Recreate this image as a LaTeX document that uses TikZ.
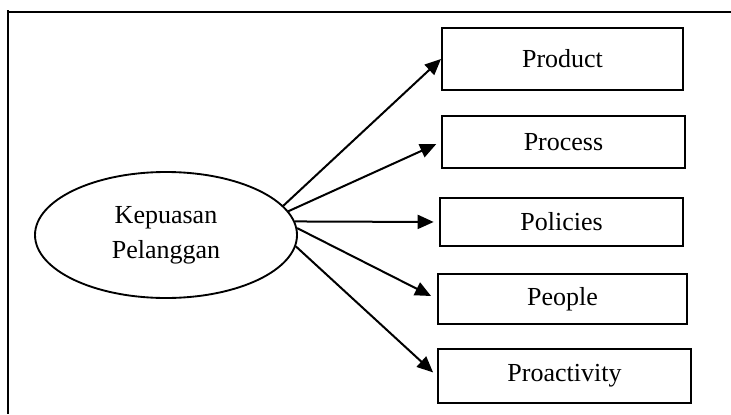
\documentclass[tikz,border=0pt]{standalone}
\usepackage{fontspec}
\setmainfont{Liberation Serif}
\usetikzlibrary{shapes.geometric,arrows.meta}
\tikzset{
  dimbox/.style={draw,line width=1.5pt,inner sep=0pt},
  dimarrow/.style={-{Triangle[length=12pt,width=10.5pt]},line width=1.5pt}
}
\begin{document}
\begin{tikzpicture}[x=0.75pt,y=-0.75pt,every node/.style={font=\fontsize{19.5}{26}\selectfont}]
  \useasboundingbox (0,0) rectangle (731,414);
  % frame
  \draw[line width=1.5pt] (8,10) -- (8,414);
  \draw[line width=1.5pt] (8,12) -- (731,12);
  \node[draw,ellipse,line width=1.4pt,inner sep=0pt,minimum width=196.5pt,minimum height=94.5pt,align=center] (kp) at (166,235) {Kepuasan\\Pelanggan};
  \node[dimbox,minimum width=180.75pt,minimum height=46.5pt] (product) at (562.5,59) {Product};
  \node[dimbox,minimum width=182.25pt,minimum height=39pt] (process) at (563.5,142) {Process};
  \node[dimbox,minimum width=182.25pt,minimum height=36pt] (policies) at (561.5,222) {Policies};
  \node[dimbox,minimum width=186.75pt,minimum height=37.5pt] (people) at (562.5,299) {People};
  \node[dimbox,minimum width=189.75pt,minimum height=40.5pt] (proactivity) at (564.5,376) {Proactivity};
  \draw[dimarrow] (kp.14) -- (product.west);
  \draw[dimarrow,shorten >=4pt] (kp.11) -- (process.west);
  \draw[dimarrow,shorten >=4pt] (kp.6) -- (policies.west);
  \draw[dimarrow,shorten >=5pt] (kp.3) -- (people.west);
  \draw[dimarrow,shorten >=4pt] (kp.-5) -- (proactivity.west);
\end{tikzpicture}
\end{document}
